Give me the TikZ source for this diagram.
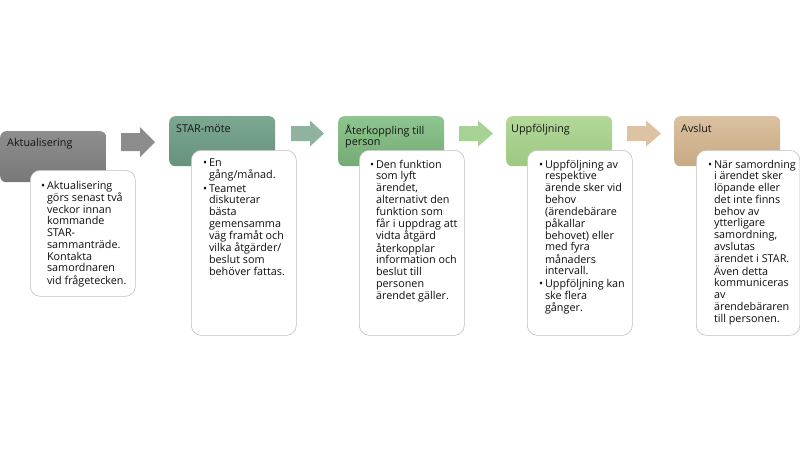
\documentclass[tikz,border=0pt]{standalone}
\usepackage{fontspec}
\setmainfont{Open Sans}
\definecolor{hAtop}{HTML}{8E8E8E}\definecolor{hAbot}{HTML}{787878}
\definecolor{hBtop}{HTML}{7CA792}\definecolor{hBbot}{HTML}{66927C}
\definecolor{hCtop}{HTML}{8FC58E}\definecolor{hCbot}{HTML}{74AB74}
\definecolor{hDtop}{HTML}{B3D898}\definecolor{hDbot}{HTML}{9DC882}
\definecolor{hEtop}{HTML}{DAC1A1}\definecolor{hEbot}{HTML}{C8A982}
\definecolor{aA}{HTML}{8C8C8C}
\definecolor{aB}{HTML}{8FB39F}
\definecolor{aC}{HTML}{A6D293}
\definecolor{aD}{HTML}{DDC2A3}
\begin{document}
\begin{tikzpicture}[x=1pt,y=-1pt,
  hdr/.style={rounded corners=6pt, anchor=north west, inner sep=0pt, minimum height=50pt, minimum width=106pt},
  bodybox/.style={draw=black!25, line width=0.6pt, fill=white, rounded corners=10pt, anchor=north west, inner sep=0pt, minimum width=105pt},
  htext/.style={anchor=base west, inner sep=0pt, text=black!92, font=\fontsize{10.8}{11.5}\selectfont, align=left},
  btext/.style={anchor=base west, inner sep=0pt, text=black!95, font=\fontsize{10.8}{11.75}\selectfont}]
\useasboundingbox (0,0) rectangle (800,450);
\fill[white] (0,0) rectangle (800,450);
% headers
\node[hdr, top color=hAtop, bottom color=hAbot, minimum height=51pt] (h1) at (0,131) {};
\node[hdr, top color=hBtop, bottom color=hBbot] (h2) at (169,116) {};
\node[hdr, top color=hCtop, bottom color=hCbot] (h3) at (338,116) {};
\node[hdr, top color=hDtop, bottom color=hDbot] (h4) at (506,116) {};
\node[hdr, top color=hEtop, bottom color=hEbot] (h5) at (674,116) {};
% arrows
\fill[aA] (121,133) -- (140,133) -- (140,127) -- (155,142) -- (140,157) -- (140,151) -- (121,151) -- cycle;
\fill[aB] (291,126) -- (310,126) -- (310,120.5) -- (324,133.5) -- (310,146.5) -- (310,141) -- (291,141) -- cycle;
\fill[aC] (459,126) -- (478,126) -- (478,120.5) -- (493,133.5) -- (478,146.5) -- (478,141) -- (459,141) -- cycle;
\fill[aD] (627,126) -- (646,126) -- (646,120.5) -- (661,133.5) -- (646,146.5) -- (646,141) -- (627,141) -- cycle;
% header texts
\node[htext] (h1t) at (7,146) {Aktualisering};
\node[htext] (h2t) at (176,132) {STAR-möte};
\node[htext] (h3t) at (345,145.5) {Återkoppling till\\person};
\node[htext] (h4t) at (511,132) {Uppföljning};
\node[htext] (h5t) at (681,132) {Avslut};
% body boxes
\node[bodybox, minimum height=126pt] (b1) at (30,170) {};
\node[bodybox, minimum height=185pt] (b2) at (191,150) {};
\node[bodybox, minimum height=185pt] (b3) at (359,150) {};
\node[bodybox, minimum height=185pt] (b4) at (527,150) {};
\node[bodybox, minimum height=185pt, minimum width=103.5pt] (b5) at (696,150) {};
% body texts
\node[btext] (t1) at (41,189) {\begin{tabular}[t]{@{}l@{\hspace{1.8pt}}l@{}}
•&Aktualisering\\ &görs senast två\\ &veckor innan\\ &kommande\\ &STAR-\\ &sammanträde.\\ &Kontakta\\ &samordnaren\\ &vid frågetecken.\end{tabular}};
\node[btext] (t2) at (203,166.5) {\begin{tabular}[t]{@{}l@{\hspace{1.8pt}}l@{}}
•&En\\ &gång/månad.\\[1.5pt]
•&Teamet\\ &diskuterar\\ &bästa\\ &gemensamma\\ &väg framåt och\\ &vilka åtgärder/\\ &beslut som\\ &behöver fattas.\end{tabular}};
\node[btext] (t3) at (370,168) {\begin{tabular}[t]{@{}l@{\hspace{1.8pt}}l@{}}
•&Den funktion\\ &som lyft\\ &ärendet,\\ &alternativt den\\ &funktion som\\ &får i uppdrag att\\ &vidta åtgärd\\ &återkopplar\\ &information och\\ &beslut till\\ &personen\\ &ärendet gäller.\end{tabular}};
\node[btext] (t4) at (539,168) {\begin{tabular}[t]{@{}l@{\hspace{1.8pt}}l@{}}
•&Uppföljning av\\ &respektive\\ &ärende sker vid\\ &behov\\ &(ärendebärare\\ &påkallar\\ &behovet) eller\\ &med fyra\\ &månaders\\ &intervall.\\[1pt]
•&Uppföljning kan\\ &ske flera\\ &gånger.\end{tabular}};
\node[btext] (t5) at (708,168) {\begin{tabular}[t]{@{}l@{\hspace{1.8pt}}l@{}}
•&När samordning\\ &i ärendet sker\\ &löpande eller\\ &det inte finns\\ &behov av\\ &ytterligare\\ &samordning,\\ &avslutas\\ &ärendet i STAR.\\ &Även detta\\ &kommuniceras\\ &av\\ &ärendebäraren\\ &till personen.\end{tabular}};
\end{tikzpicture}
\end{document}
